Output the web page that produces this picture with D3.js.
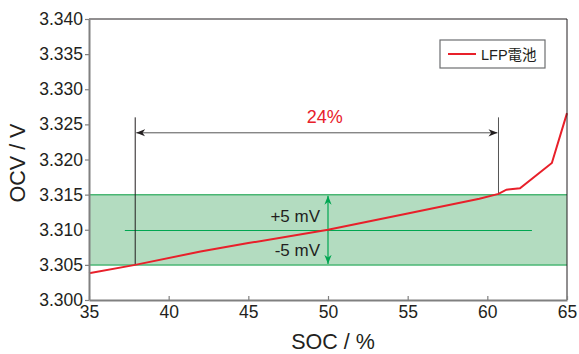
<!DOCTYPE html>
<html>
<head>
<meta charset="utf-8">
<script src="https://cdn.jsdelivr.net/npm/d3@7"></script>
<style>
  body { margin: 0; background: #fff; }
  svg { font-family: "Liberation Sans", Arial, "Noto Sans CJK JP", sans-serif; }
  .axis text { font-size: 17.5px; fill: #231f20; }
</style>
</head>
<body>
<svg id="chart" width="579" height="354"></svg>
<script>
// curve values
var soc = [35, 37.9, 42, 45, 50, 55, 59.5, 60.7, 61.2, 62.05, 64.05, 65];
var ocv = [3.3038, 3.3050, 3.3069, 3.3081, 3.3100, 3.3123, 3.3144, 3.3151, 3.3157, 3.3159, 3.3195, 3.3266];

var xTicks = [35, 40, 45, 50, 55, 60, 65];
var yTicks = [3.300, 3.305, 3.310, 3.315, 3.320, 3.325, 3.330, 3.335, 3.340];

// annotations
var band = [3.305, 3.315];          // +/- 5 mV window
var bandMid = 3.310;
var midLine = [37.25, 62.8];        // green centre line extent
var spanSOC = [37.9, 60.7];         // 24% span
var spanTop = 3.3260;
var spanArrowY = 3.3238;
var mvArrowX = 50;

var svg = d3.select("#chart");
var margin = {top: 19, right: 12, bottom: 54, left: 89};
var width = 579 - margin.left - margin.right;
var height = 354 - margin.top - margin.bottom;
var g = svg.append("g").attr("transform", "translate(" + margin.left + "," + margin.top + ")");

var x = d3.scaleLinear().domain([35, 65]).range([0, width]);
var y = d3.scaleLinear().domain([3.300, 3.340]).range([height, 0]);

var defs = svg.append("defs");
function arrowMarker(id, color) {
  defs.append("marker")
    .attr("id", id)
    .attr("viewBox", "0 0 10 10")
    .attr("refX", 10).attr("refY", 5)
    .attr("markerWidth", 9).attr("markerHeight", 9)
    .attr("markerUnits", "userSpaceOnUse")
    .attr("orient", "auto-start-reverse")
    .append("path")
    .attr("d", "M0,1 L10,5 L0,9 L3,5 Z")
    .attr("fill", color);
}
arrowMarker("arrK", "#231f20");
arrowMarker("arrG", "#00a651");

// green tolerance band
g.append("rect")
  .attr("x", 0)
  .attr("y", y(band[1]))
  .attr("width", width)
  .attr("height", y(band[0]) - y(band[1]))
  .attr("fill", "#b3dcc0");
band.forEach(function(v) {
  g.append("line")
    .attr("x1", 0).attr("x2", width)
    .attr("y1", y(v)).attr("y2", y(v))
    .attr("stroke", "#49b673").attr("stroke-width", 1.5);
});
g.append("line")
  .attr("x1", x(midLine[0])).attr("x2", x(midLine[1]))
  .attr("y1", Math.round(y(bandMid)) + 0.5).attr("y2", Math.round(y(bandMid)) + 0.5)
  .attr("stroke", "#00a651").attr("stroke-width", 1);

// vertical span markers
g.append("line")
  .attr("x1", x(spanSOC[0])).attr("x2", x(spanSOC[0]))
  .attr("y1", y(spanTop)).attr("y2", y(band[0]))
  .attr("stroke", "#231f20").attr("stroke-width", 1);
g.append("line")
  .attr("x1", x(spanSOC[1])).attr("x2", x(spanSOC[1]))
  .attr("y1", y(spanTop)).attr("y2", y(band[1]))
  .attr("stroke", "#555").attr("stroke-width", 1);
g.append("line")
  .attr("x1", x(spanSOC[0]) + 1).attr("x2", x(spanSOC[1]) - 1)
  .attr("y1", y(spanArrowY)).attr("y2", y(spanArrowY))
  .attr("stroke", "#555").attr("stroke-width", 1)
  .attr("marker-start", "url(#arrK)")
  .attr("marker-end", "url(#arrK)");
g.append("text")
  .attr("x", x((spanSOC[0] + spanSOC[1]) / 2) + 8)
  .attr("y", y(spanArrowY) - 10)
  .attr("text-anchor", "middle")
  .attr("font-size", 18)
  .attr("fill", "#e8202a")
  .text("24%");

// +/- 5 mV arrow
g.append("line")
  .attr("x1", x(mvArrowX)).attr("x2", x(mvArrowX))
  .attr("y1", y(band[1]) + 1).attr("y2", y(band[0]) - 1)
  .attr("stroke", "#00a651").attr("stroke-width", 1.2)
  .attr("marker-start", "url(#arrG)")
  .attr("marker-end", "url(#arrG)");
g.append("text")
  .attr("x", x(mvArrowX) - 8)
  .attr("y", y(bandMid) - 8)
  .attr("text-anchor", "end")
  .attr("font-size", 17)
  .attr("fill", "#231f20")
  .text("+5 mV");
g.append("text")
  .attr("x", x(mvArrowX) - 8)
  .attr("y", y(bandMid) + 26)
  .attr("text-anchor", "end")
  .attr("font-size", 17)
  .attr("fill", "#231f20")
  .text("-5 mV");

// OCV curve
var line = d3.line()
  .x(function(d, i) { return x(soc[i]); })
  .y(function(d) { return y(d); });
g.append("path")
  .datum(ocv)
  .attr("d", line)
  .attr("fill", "none")
  .attr("stroke", "#e8202a")
  .attr("stroke-width", 2);

// frame top / right
g.append("line").attr("x1", 0).attr("x2", width).attr("y1", 0).attr("y2", 0)
  .attr("stroke", "#231f20").attr("stroke-width", 1);
g.append("line").attr("x1", width).attr("x2", width).attr("y1", 0).attr("y2", height)
  .attr("stroke", "#231f20").attr("stroke-width", 1);

// axes
var xAxis = g.append("g")
  .attr("class", "axis")
  .attr("transform", "translate(0," + height + ")")
  .call(d3.axisBottom(x).tickValues(xTicks).tickSizeInner(-4).tickSizeOuter(0).tickPadding(6));
var yAxis = g.append("g")
  .attr("class", "axis")
  .call(d3.axisLeft(y).tickValues(yTicks).tickFormat(d3.format(".3f")).tickSizeInner(4).tickSizeOuter(0).tickPadding(2));
[xAxis, yAxis].forEach(function(a) {
  a.select(".domain").attr("stroke", "#808080").attr("stroke-width", 2);
  a.selectAll(".tick line").attr("stroke", "#808080").attr("stroke-width", 1.2);
  a.attr("font-family", null).attr("font-size", null);
});

// axis titles
svg.append("text")
  .attr("x", margin.left + width / 2 + 5)
  .attr("y", 349)
  .attr("text-anchor", "middle")
  .attr("font-size", 21.5)
  .attr("fill", "#231f20")
  .text("SOC / %");
svg.append("text")
  .attr("transform", "translate(25,163) rotate(-90)")
  .attr("text-anchor", "middle")
  .attr("font-size", 21.5)
  .attr("fill", "#231f20")
  .text("OCV / V");

// legend
var legend = g.append("g").attr("transform", "translate(" + (440 - margin.left) + "," + (40 - margin.top) + ")");
legend.append("rect")
  .attr("width", 105).attr("height", 28)
  .attr("fill", "#fff")
  .attr("stroke", "#6d6e71").attr("stroke-width", 1.2);
legend.append("line")
  .attr("x1", 8).attr("x2", 36).attr("y1", 14).attr("y2", 14)
  .attr("stroke", "#e8202a").attr("stroke-width", 2);
legend.append("text")
  .attr("x", 41).attr("y", 19.5)
  .attr("font-size", 14.5)
  .attr("fill", "#231f20")
  .text("LFP電池");
</script>
</body>
</html>
